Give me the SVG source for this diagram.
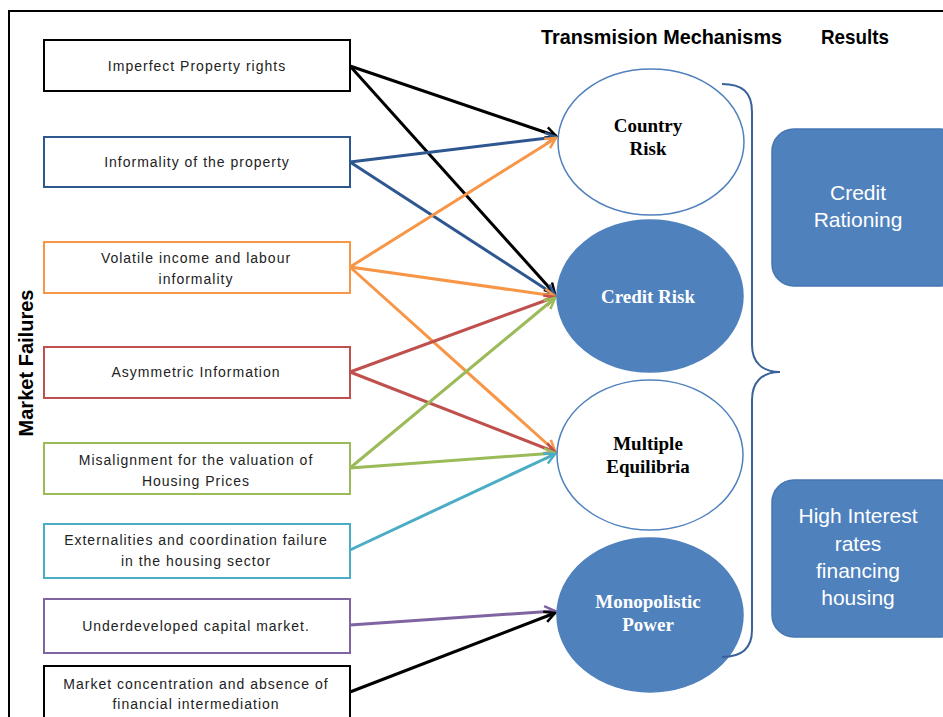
<svg xmlns="http://www.w3.org/2000/svg" width="943" height="717" viewBox="0 0 943 717">
<style>
.frame{fill:none;stroke:#000;stroke-width:2}
.box{fill:#fff;stroke-width:2}
.bt{font-family:"Liberation Sans",Arial,sans-serif;font-size:14px;letter-spacing:1px;fill:#222;text-anchor:middle}
.hd{font-family:"Liberation Sans",Arial,sans-serif;font-size:21px;font-weight:bold;fill:#000}
.el{stroke:#4F81BD;stroke-width:1.5}
.et{font-family:"Liberation Serif","Times New Roman",serif;font-size:19px;font-weight:bold;text-anchor:middle}
.res{fill:#4F81BD;stroke:#4677B2;stroke-width:1.5}
.rt{font-family:"Liberation Sans",Arial,sans-serif;font-size:21px;fill:#fff;text-anchor:middle}
.ln{fill:none;stroke-width:3}
.mk{fill:none;stroke-width:2.5;stroke-linejoin:miter}
</style>
<defs>
<marker id="aK" viewBox="0 0 14 14" refX="12" refY="7" markerWidth="14" markerHeight="14" markerUnits="userSpaceOnUse" orient="auto"><path class="mk" d="M1.5,1.5 L12,7 L1.5,12.5" stroke="#000"/></marker>
<marker id="aB" viewBox="0 0 14 14" refX="12" refY="7" markerWidth="14" markerHeight="14" markerUnits="userSpaceOnUse" orient="auto"><path class="mk" d="M1.5,1.5 L12,7 L1.5,12.5" stroke="#2E5790"/></marker>
<marker id="aO" viewBox="0 0 14 14" refX="12" refY="7" markerWidth="14" markerHeight="14" markerUnits="userSpaceOnUse" orient="auto"><path class="mk" d="M1.5,1.5 L12,7 L1.5,12.5" stroke="#F79646"/></marker>
<marker id="aR" viewBox="0 0 14 14" refX="12" refY="7" markerWidth="14" markerHeight="14" markerUnits="userSpaceOnUse" orient="auto"><path class="mk" d="M1.5,1.5 L12,7 L1.5,12.5" stroke="#C0504D"/></marker>
<marker id="aG" viewBox="0 0 14 14" refX="12" refY="7" markerWidth="14" markerHeight="14" markerUnits="userSpaceOnUse" orient="auto"><path class="mk" d="M1.5,1.5 L12,7 L1.5,12.5" stroke="#9BBB59"/></marker>
<marker id="aC" viewBox="0 0 14 14" refX="12" refY="7" markerWidth="14" markerHeight="14" markerUnits="userSpaceOnUse" orient="auto"><path class="mk" d="M1.5,1.5 L12,7 L1.5,12.5" stroke="#4BACC6"/></marker>
<marker id="aP" viewBox="0 0 14 14" refX="12" refY="7" markerWidth="14" markerHeight="14" markerUnits="userSpaceOnUse" orient="auto"><path class="mk" d="M1.5,1.5 L12,7 L1.5,12.5" stroke="#8064A2"/></marker>
</defs>
<rect width="943" height="717" fill="#fff"/>
<rect class="frame" x="9" y="11" width="1000" height="800"/>
<text class="hd" x="541" y="44" textLength="241" lengthAdjust="spacingAndGlyphs">Transmision Mechanisms</text>
<text class="hd" x="821" y="44" textLength="68" lengthAdjust="spacingAndGlyphs">Results</text>
<text class="hd" transform="translate(33,363) rotate(-90)" text-anchor="middle" textLength="147" lengthAdjust="spacingAndGlyphs">Market Failures</text>

<g id="connectors">
<path class="ln" stroke="#000" d="M350,66 L556,136" marker-end="url(#aK)"/>
<path class="ln" stroke="#000" d="M350,66 L555,294" marker-end="url(#aK)"/>
<path class="ln" stroke="#2E5790" d="M350,162 L556,137" marker-end="url(#aB)"/>
<path class="ln" stroke="#2E5790" d="M350,162 L555,295" marker-end="url(#aB)"/>
<path class="ln" stroke="#F79646" d="M350,267 L556,138" marker-end="url(#aO)"/>
<path class="ln" stroke="#F79646" d="M350,267 L555,296" marker-end="url(#aO)"/>
<path class="ln" stroke="#F79646" d="M350,267 L555,451" marker-end="url(#aO)"/>
<path class="ln" stroke="#C0504D" d="M350,372 L555,297" marker-end="url(#aR)"/>
<path class="ln" stroke="#C0504D" d="M350,372 L555,452" marker-end="url(#aR)"/>
<path class="ln" stroke="#9BBB59" d="M350,468 L555,298" marker-end="url(#aG)"/>
<path class="ln" stroke="#9BBB59" d="M350,468 L555,453" marker-end="url(#aG)"/>
<path class="ln" stroke="#4BACC6" d="M350,550 L555,454" marker-end="url(#aC)"/>
<path class="ln" stroke="#8064A2" d="M350,625 L555,611" marker-end="url(#aP)"/>
<path class="ln" stroke="#000" d="M350,692 L555,613" marker-end="url(#aK)"/>
</g>

<g id="n1"><rect class="box" stroke="#000" x="44" y="40" width="306" height="51"/><text class="bt" x="197" y="71">Imperfect Property rights</text></g>
<g id="n2"><rect class="box" stroke="#2E5790" x="44" y="137" width="306" height="50"/><text class="bt" x="197" y="167">Informality of the property</text></g>
<g id="n3"><rect class="box" stroke="#F79646" x="44" y="242" width="306" height="51"/><text class="bt" x="196" y="263">Volatile income and labour</text><text class="bt" x="196" y="284">informality</text></g>
<g id="n4"><rect class="box" stroke="#C0504D" x="44" y="347" width="306" height="51"/><text class="bt" x="196" y="377">Asymmetric Information</text></g>
<g id="n5"><rect class="box" stroke="#9BBB59" x="44" y="443" width="306" height="51"/><text class="bt" x="196" y="465">Misalignment for the valuation of</text><text class="bt" x="196" y="486">Housing Prices</text></g>
<g id="n6"><rect class="box" stroke="#4BACC6" x="44" y="524" width="306" height="54"/><text class="bt" x="196" y="545">Externalities and coordination failure</text><text class="bt" x="196" y="566">in the housing sector</text></g>
<g id="n7"><rect class="box" stroke="#8064A2" x="44" y="599" width="306" height="54"/><text class="bt" x="196" y="631">Underdeveloped capital market.</text></g>
<g id="n8"><rect class="box" stroke="#000" x="44" y="666" width="306" height="70"/><text class="bt" x="196" y="689">Market concentration and absence of</text><text class="bt" x="196" y="709">financial intermediation</text></g>

<g id="country-risk"><ellipse class="el" fill="#fff" cx="651" cy="142" rx="93" ry="73"/><text class="et" fill="#000" x="648" y="132">Country</text><text class="et" fill="#000" x="648" y="155">Risk</text></g>
<g id="credit-risk"><ellipse class="el" fill="#4F81BD" cx="650" cy="296" rx="93" ry="76"/><text class="et" fill="#fff" x="648" y="303">Credit Risk</text></g>
<g id="multiple-equilibria"><ellipse class="el" fill="#fff" cx="650" cy="455" rx="93" ry="75"/><text class="et" fill="#000" x="648" y="450">Multiple</text><text class="et" fill="#000" x="648" y="473">Equilibria</text></g>
<g id="monopolistic-power"><ellipse class="el" fill="#4F81BD" cx="650" cy="615" rx="93" ry="77"/><text class="et" fill="#fff" x="648" y="608">Monopolistic</text><text class="et" fill="#fff" x="648" y="631">Power</text></g>

<g id="brace"><path d="M722,84 C742,84 752,92 752,112 L752,345 C752,362 762,372 780,372 C762,372 752,382 752,400 L752,630 C752,648 742,657 722,657" fill="none" stroke="#3A629A" stroke-width="2"/></g>

<g id="credit-rationing"><rect class="res" x="772" y="129" width="190" height="157" rx="22"/><text class="rt" x="858" y="200">Credit</text><text class="rt" x="858" y="227">Rationing</text></g>
<g id="high-interest"><rect class="res" x="772" y="480" width="190" height="157" rx="22"/><text class="rt" x="858" y="523">High Interest</text><text class="rt" x="858" y="551">rates</text><text class="rt" x="858" y="578">financing</text><text class="rt" x="858" y="605">housing</text></g>
</svg>
